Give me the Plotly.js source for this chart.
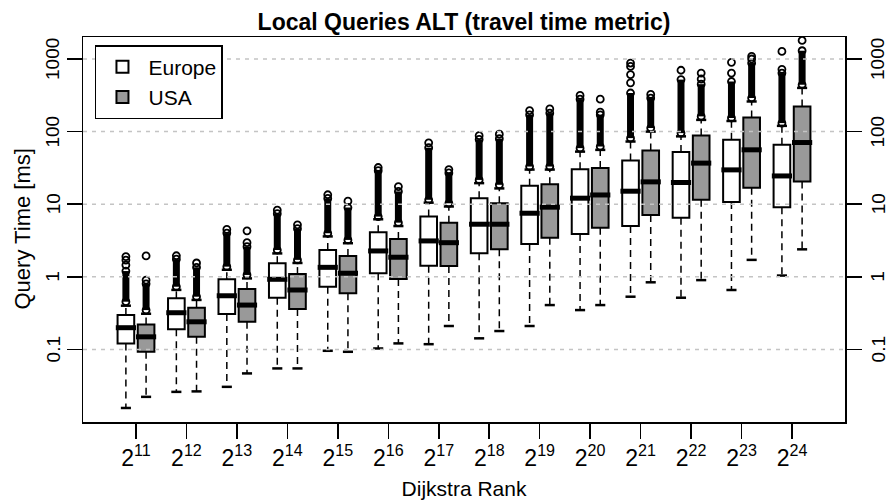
<!DOCTYPE html>
<html><head><meta charset="utf-8">
<script src="https://cdn.plot.ly/plotly-3.0.1.min.js"></script>
<style>html,body{margin:0;padding:0;background:#fff}</style>
</head><body><div id="chart" style="width:889px;height:500px"></div>
<script>
// ---- data (query times in ms) ----
const ranks = [11,12,13,14,15,16,17,18,19,20,21,22,23,24];
const tickLabels = ['2<sup>11</sup>','2<sup>12</sup>','2<sup>13</sup>','2<sup>14</sup>','2<sup>15</sup>','2<sup>16</sup>','2<sup>17</sup>','2<sup>18</sup>','2<sup>19</sup>','2<sup>20</sup>','2<sup>21</sup>','2<sup>22</sup>','2<sup>23</sup>','2<sup>24</sup>'];
const yTickVals = [0.1, 1, 10, 100, 1000];
const yTickText = ['0.1', '1', '10', '100', '1000'];

const euLowW  = [0.0156,0.026,0.0305,0.0547,0.0957,0.103,0.118,0.142,0.21,0.348,0.532,0.515,0.658,1.04];
const euQ1    = [0.121,0.19,0.307,0.515,0.73,1.12,1.42,2.11,2.83,3.89,5.02,6.53,10.7,9.1];
const euMed   = [0.199,0.32,0.548,0.924,1.35,2.27,3.12,5.3,7.51,12.1,15.1,19.9,29.7,24.5];
const euQ3    = [0.297,0.505,0.924,1.54,2.34,4.11,6.75,12.1,17.9,30.4,39.9,52.2,77.1,65.8];
const euUpW   = [0.40,0.66,1.25,2.1,3.6,6.2,10.5,19.5,30,53,73,86,140,120];
const euOutLo = [0.454,0.73,1.38,2.34,3.98,6.75,11.5,21.6,33,59.2,81.3,95.3,154,131];
const euOutHi = [1.2,1.75,4.0,7.4,12,29,60,78,170,280,340,520,490,640];
const euOutExtra = [[1.45,1.7,1.9],[1.95],[4.5],[8.3],[13.5],[32],[70],[88],[195],[315],[470,610,790,880],[700],[640,900],[720,1270]];

const usLowW  = [0.0222,0.0264,0.0467,0.0547,0.0927,0.121,0.21,0.179,0.408,0.408,0.84,0.90,1.71,2.39];
const usQ1    = [0.0927,0.149,0.240,0.36,0.592,0.933,1.41,2.39,3.46,4.75,7.12,11.5,16.9,20.5];
const usMed   = [0.149,0.240,0.408,0.658,1.12,1.86,2.95,5.3,9.1,13.4,20.3,36.8,56.1,70.7];
const usQ3    = [0.221,0.375,0.679,1.09,1.94,3.32,5.57,10.3,18.9,31.4,54.9,88.3,156,222];
const usUpW   = [0.31,0.48,0.95,1.55,2.9,5.0,9.3,16.5,30,56,100,145,260,400];
const usOutLo = [0.348,0.532,1.06,1.71,3.22,5.57,10.3,18.5,33,62.3,112,162,290,442];
const usOutHi = [0.8,1.35,2.6,4.6,9,15,27,80,180,170,290,450,880,1300];
const usOutExtra = [[0.9,1.94],[1.55],[2.95,4.3],[5.2],[11],[17.5],[30],[92],[205],[185,280],[325],[530,640],[1000,1090],[1800]];

// ---- style ----
const FONT = 'Liberation Sans, Arial, Helvetica, sans-serif';
const OFF = 0.2, BOXW = 0.33, MEDHALF = 0.2, STAPHALF = 0.1;
const groupPos = ranks.map((r, i) => i + 1);
const yRange = [-2.0, 3.303];
const yFrac = v => (Math.log10(v) - yRange[0]) / (yRange[1] - yRange[0]);

function seriesTraces(name, off, fill, lowW, q1, med, q3, upW, outLo, outHi, outExtra) {
  const pos = groupPos.map(p => p + off);
  const box = {
    type: 'box', name: name, x: pos, q1: q1, median: med, q3: q3,
    lowerfence: q1, upperfence: q3, width: BOXW, whiskerwidth: 0,
    fillcolor: fill, line: {color: '#000', width: 2}, boxpoints: false,
    hoverinfo: 'skip', showlegend: true
  };
  const wx = [], wy = [], sx = [], sy = [], mx = [], my = [], dx = [], dy = [], ox = [], oy = [];
  pos.forEach((p, i) => {
    wx.push(p, p, null, p, p, null);
    wy.push(q1[i], lowW[i], null, q3[i], upW[i], null);
    sx.push(p - STAPHALF, p + STAPHALF, null, p - STAPHALF, p + STAPHALF, null);
    sy.push(lowW[i], lowW[i], null, upW[i], upW[i], null);
    mx.push(p - MEDHALF, p + MEDHALF, null);
    my.push(med[i], med[i], null);
    dx.push(p, p, null);
    dy.push(outLo[i], outHi[i], null);
    [outLo[i], outHi[i]].concat(outExtra[i]).forEach(v => { ox.push(p); oy.push(v); });
  });
  const common = {type: 'scatter', showlegend: false, hoverinfo: 'skip'};
  return [box,
    Object.assign({}, common, {x: wx, y: wy, mode: 'lines', line: {color: '#000', width: 1.5, dash: '7px,5px'}}),
    Object.assign({}, common, {x: sx, y: sy, mode: 'lines', line: {color: '#000', width: 2.5}}),
    Object.assign({}, common, {x: mx, y: my, mode: 'lines', line: {color: '#000', width: 5}}),
    Object.assign({}, common, {x: dx, y: dy, mode: 'lines', line: {color: '#000', width: 7}}),
    Object.assign({}, common, {x: ox, y: oy, mode: 'markers', marker: {symbol: 'circle-open', size: 7, color: '#000', line: {width: 1.8, color: '#000'}}})
  ];
}

const eu = seriesTraces('Europe', -OFF, '#ffffff', euLowW, euQ1, euMed, euQ3, euUpW, euOutLo, euOutHi, euOutExtra);
const us = seriesTraces('USA', OFF, '#999999', usLowW, usQ1, usMed, usQ3, usUpW, usOutLo, usOutHi, usOutExtra);
const data = [eu[0], us[0]].concat(eu.slice(1), us.slice(1));

// rotated tick labels (left and right) and rotated y title
const annotations = [];
yTickVals.forEach((v, i) => {
  [[0, -30], [1, 33]].forEach(([px, shift]) => {
    annotations.push({text: yTickText[i], xref: 'paper', x: px, xshift: shift, xanchor: 'center',
      yref: 'paper', y: yFrac(v), yanchor: 'middle', textangle: -90, showarrow: false,
      font: {family: FONT, size: 19, color: '#000'}});
  });
});
annotations.push({text: 'Query Time [ms]', xref: 'paper', x: 0, xshift: -61, xanchor: 'center',
  yref: 'paper', y: 0.5, yanchor: 'middle', textangle: -90, showarrow: false,
  font: {family: FONT, size: 22, color: '#000'}});

const layout = {
  width: 889, height: 500,
  margin: {l: 83, r: 44, t: 37, b: 78, pad: 0},
  paper_bgcolor: '#fff', plot_bgcolor: '#fff',
  font: {family: FONT, color: '#000'},
  boxmode: 'overlay',
  title: {text: 'Local Queries ALT (travel time metric)', font: {family: FONT, size: 23, color: '#000', weight: 'bold'},
          x: 0.5, xref: 'paper', y: 0.956, yref: 'container', yanchor: 'middle'},
  xaxis: {
    range: [-0.05, 15.05], tickmode: 'array', tickvals: groupPos, ticktext: tickLabels,
    ticks: 'outside', ticklen: 15, tickwidth: 1.5, tickcolor: '#000',
    showline: true, linewidth: 1.5, linecolor: '#000', mirror: true,
    showgrid: false, zeroline: false,
    tickfont: {family: FONT, size: 23, color: '#000'},
    title: {text: 'Dijkstra Rank', font: {family: FONT, size: 21, color: '#000'}}
  },
  yaxis: {
    type: 'log', range: yRange, tickmode: 'array', tickvals: yTickVals, showticklabels: false,
    ticks: 'outside', ticklen: 15, tickwidth: 1.5, tickcolor: '#000',
    showline: true, linewidth: 1.5, linecolor: '#000', mirror: 'allticks',
    showgrid: false, zeroline: false
  },
  shapes: yTickVals.map(v => ({type: 'line', xref: 'paper', x0: 0, x1: 1, yref: 'y', y0: v, y1: v,
                               line: {color: '#c4c4c4', width: 1.5, dash: '4px,5px'}, layer: 'above'})),
  annotations: annotations,
  legend: {x: 0.0157, y: 0.979, xanchor: 'left', yanchor: 'top', bgcolor: '#fff', bordercolor: '#000', borderwidth: 1.5,
           itemwidth: 42, font: {family: FONT, size: 21, color: '#000'}}
};

Plotly.newPlot('chart', data, layout, {displayModeBar: false, staticPlot: true});
</script>
</body></html>
